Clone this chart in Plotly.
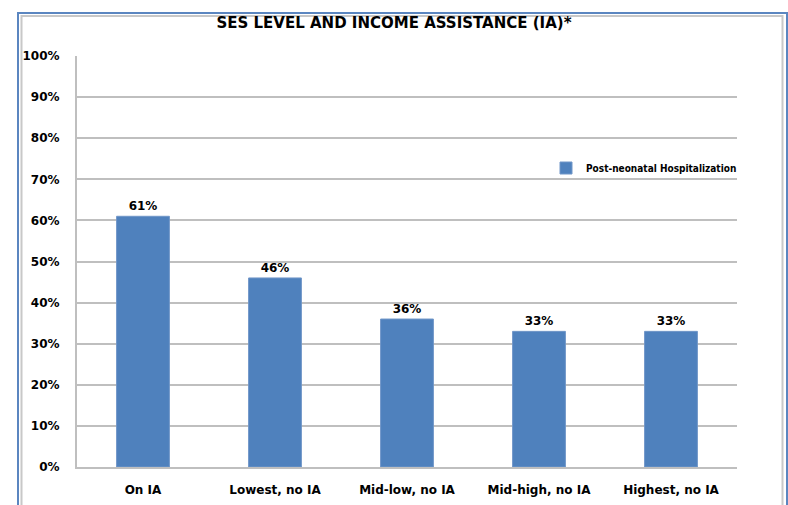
import plotly.graph_objects as go

categories = ["On IA", "Lowest, no IA", "Mid-low, no IA", "Mid-high, no IA", "Highest, no IA"]
values = [0.61, 0.46, 0.36, 0.33, 0.33]
series_name = "Post-neonatal Hospitalization"
title_text = "SES LEVEL AND INCOME ASSISTANCE (IA)*"
y_ticks = [i / 10 for i in range(11)]
y_ticklabels = ["%d%%" % (i * 10) for i in range(11)]

W, H = 788, 505
L, R, T, B = 77, 737, 56, 467  # plot area in pixels

def px_x(x):
    return (x - L) / (R - L)

def px_y(y):
    return (B - y) / (B - T)

FONT = "DejaVu Sans, Liberation Sans, Arial, sans-serif"
LEG_FONT = "DejaVu Sans Condensed, Liberation Sans Narrow, Liberation Sans, sans-serif"

fig = go.Figure()
fig.add_trace(go.Bar(
    x=categories, y=values, name="<b>" + series_name + "</b>",
    marker=dict(color="#4F81BD", line=dict(color="#7096C8", width=1)),
    texttemplate="<b>%{y:.0%}</b>", textposition="outside", cliponaxis=False,
    textfont=dict(family=FONT, size=12, color="#000000"),
))

shapes = []
# outer blue frame
shapes.append(dict(type="rect", xref="paper", yref="paper",
                   x0=px_x(18), x1=px_x(787), y0=px_y(520), y1=px_y(13),
                   line=dict(color="#5B86C0", width=2), layer="below"))
# inner gray frame
shapes.append(dict(type="rect", xref="paper", yref="paper",
                   x0=px_x(21.5), x1=px_x(782.5), y0=px_y(520), y1=px_y(16),
                   line=dict(color="#C8C8C8", width=2), layer="below"))

fig.update_layout(
    width=W, height=H,
    margin=dict(l=L, r=W - R, t=T, b=H - B, pad=0, autoexpand=False),
    paper_bgcolor="white", plot_bgcolor="white",
    font=dict(family=FONT, size=12, color="#000000"),
    title=dict(text="<b>" + title_text + "</b>", x=0.5, xref="container", xanchor="center",
               y=1 - 23 / H, yref="container", yanchor="middle",
               font=dict(family=FONT, size=15, color="#000000")),
    bargap=0.6,
    showlegend=True,
    legend=dict(x=px_x(742), xanchor="right", y=px_y(168), yanchor="middle",
                bgcolor="rgba(0,0,0,0)", itemwidth=30,
                font=dict(family=LEG_FONT, size=10, color="#000000")),
    shapes=shapes,
)
fig.update_xaxes(showgrid=False, showline=True, linecolor="#BFBFBF", linewidth=2,
                 ticks="", ticklabelstandoff=11, automargin=False,
                 tickvals=categories, ticktext=["<b>" + c + "</b>" for c in categories],
                 tickfont=dict(family=FONT, size=12, color="#000000"))
fig.update_yaxes(range=[0, 1], showgrid=True, automargin=False,
                 gridcolor="#BFBFBF", gridwidth=1.5, showline=True, linecolor="#BFBFBF",
                 linewidth=2, ticks="", ticklabelstandoff=13, zeroline=False,
                 tickvals=y_ticks, ticktext=["<b>" + t + "</b>" for t in y_ticklabels],
                 tickfont=dict(family=FONT, size=12, color="#000000"))

fig.write_html("out.html", config={"displayModeBar": False},
               post_script="document.body.style.margin='0px';document.body.style.overflow='hidden';")
